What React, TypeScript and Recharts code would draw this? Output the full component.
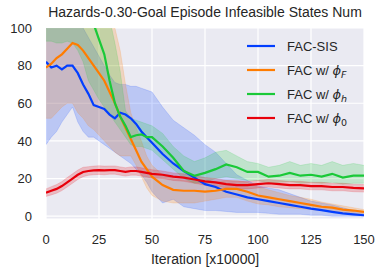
import React from 'react';
import { ComposedChart, Line, Area, XAxis, YAxis, CartesianGrid } from 'recharts';

const XS = [0,2.5,5,7.5,10,12.5,15,17.5,20,22.5,25,27.5,30,32.5,35,37.5,40,42.5,45,47.5,50,55,60,65,70,75,80,85,90,95,100,105,110,115,120,125,130,135,140,145,150];

const SIS_MEAN = [82,79,80,78,80,80,76,70,65,59,58,57,54,52,55,54,52,49,45,42,39,33,28,24,20.5,17,15.5,13,11.5,10,9,8,7,6,5,4,3.2,2.3,1.5,1,0.5];
const SIS_LO = [38,42,45,50,54,58,50,45,42,42,40,38,36,34,32,30,28,25,22,18,13,7,9,5,4,3,3,2.5,2,2,2,1.5,1,1,1,0.5,0.5,0,0,0,0];
const SIS_HI = [102,102,102,102,102,102,102,100,95,90,85,80,75,71,70,70,69,69,68,67,66,58,51,47,43,38,34,28,22,19,16,15,14,12,10,8,7,6,4.5,3,2];

const F_MEAN = [79,81,84,86,89,92,91,88,84,80,76,72,66,60,53,47,41,35,29,25,21,16.5,14,13.5,13.5,13,13.5,14.5,14.5,13,11,10,9,8,7,6,5,4.5,3.5,3,2.3];
const F_LO = [52,52,55,58,60,60,55,52,48,46,43,40,37,34,32,32,32,27,21,15,11,8,7,7,7,8,9,10,10,8,6.5,6,5,4.5,4,3.5,3,2.5,2,1.5,1];
const F_HI = [105,105,105,105,105,105,105,105,105,105,105,105,105,100,88,70,55,47,40,32,27,22,20,19,18.5,18,18,19,19,18,15.5,14,12.5,11,10,9,7.5,6.5,5.5,4.5,3.5];

const H_MEAN = [125,124,123,122,120,118,115,110,106,102,94,86,72,60,53,48,42,43,43.5,42,42,37,31,24,21.5,23,25,27.5,26,23.5,23.5,21,21.5,23,21.5,22,21,22.5,20.5,21.5,21.5];
const H_LO = [93,93,92,92,93,92,88,82,72,67,62,58,54,50,46,42,38,37,37,36,35,30,25,20,17.5,18,20,21,20,19,19,17.5,18,18.5,17.5,18,17.5,18,17,17.5,17.5];
const H_HI = [110,110,110,110,110,110,110,110,110,110,110,110,105,92,77,56,52,51,50,49,48,44,37,32,29,31,34,35,32,29,28,26,27,29,27,28,27,29,27,28,27];

const Z_MEAN = [12.5,13.5,14.5,16,18,20,22,23.5,24,24.3,24.5,24.3,24.5,24.5,24,23.5,24,24,23.5,23,22.5,22,21,20.5,19.5,18.5,18,17,16.5,16.5,17,17.5,17,16.5,16.5,16,16,15.5,15.5,15,14.8];
const Z_LO = [10.5,11.3,12.2,13.6,15.5,17.5,19.5,21,21.7,22,22.2,22,22.3,22.3,21.8,21.3,21.8,21.8,21.3,20.8,20.3,20,19,18.5,17.5,16.5,16,15,14.5,14.5,15,15.5,15,14.5,14.5,14,14,13.5,13.5,13,12.8];
const Z_HI = [14.5,15.7,16.8,18.4,20.5,22.5,24.5,26,26.3,26.6,26.8,26.6,26.7,26.7,26.2,25.7,26.2,26.2,25.7,25.2,24.7,24,23,22.5,21.5,20.5,20,19,18.5,18.5,19,19.5,19,18.5,18.5,18,18,17.5,17.5,17,16.8];

const X_TICKS = [0, 25, 50, 75, 100, 125, 150];
const Y_TICKS = [0, 20, 40, 60, 80, 100];

const TITLE = 'Hazards-0.30-Goal Episode Infeasible States Num';
const X_LABEL = 'Iteration [x10000]';

const BLUE = '#023eff';
const ORANGE = '#ff7c00';
const GREEN = '#1ac938';
const RED = '#e8000b';
const TEXT = '#262626';

const LEGEND = [
  { color: BLUE, base: 'FAC-SIS', sub: '', subItalic: false },
  { color: ORANGE, base: 'FAC w/ ', sub: 'F', subItalic: true },
  { color: GREEN, base: 'FAC w/ ', sub: 'h', subItalic: true },
  { color: RED, base: 'FAC w/ ', sub: '0', subItalic: false },
];

const data = XS.map((x, i) => ({
  x,
  sis: SIS_MEAN[i],
  sisBand: [SIS_LO[i], SIS_HI[i]],
  f: F_MEAN[i],
  fBand: [F_LO[i], F_HI[i]],
  h: H_MEAN[i],
  hBand: [H_LO[i], H_HI[i]],
  z: Z_MEAN[i],
  zBand: [Z_LO[i], Z_HI[i]],
}));

export default function App() {
  const font = '"Liberation Sans", Arial, sans-serif';
  const mathFont = '"DejaVu Sans", sans-serif';
  return (
    <div style={{ position: 'absolute', left: 0, top: 0, width: 385, height: 275, fontFamily: font, background: '#fff' }}>
      <ComposedChart width={385} height={275} data={data} margin={{ top: 28, right: 21, bottom: 0, left: 0 }}>
        <CartesianGrid stroke="#ffffff" strokeWidth={1.2} fill="#EAEAF2" fillOpacity={1} />
        <XAxis
          type="number"
          dataKey="x"
          domain={[0, 150]}
          ticks={X_TICKS}
          allowDataOverflow
          axisLine={false}
          tickLine={false}
          tickMargin={10}
          height={56}
          tick={{ fill: TEXT, fontSize: 13 }}
        />
        <YAxis
          type="number"
          domain={[-1.5, 100]}
          ticks={Y_TICKS}
          allowDataOverflow
          axisLine={false}
          tickLine={false}
          tickMargin={8}
          width={46}
          tick={{ fill: TEXT, fontSize: 13 }}
        />
        <Area dataKey="sisBand" type="linear" fill={BLUE} fillOpacity={0.2} stroke={BLUE} strokeOpacity={0.15} strokeWidth={1} isAnimationActive={false} dot={false} activeDot={false} />
        <Area dataKey="fBand" type="linear" fill={ORANGE} fillOpacity={0.2} stroke={ORANGE} strokeOpacity={0.15} strokeWidth={1} isAnimationActive={false} dot={false} activeDot={false} />
        <Area dataKey="hBand" type="linear" fill={GREEN} fillOpacity={0.2} stroke={GREEN} strokeOpacity={0.15} strokeWidth={1} isAnimationActive={false} dot={false} activeDot={false} />
        <Area dataKey="zBand" type="linear" fill={RED} fillOpacity={0.2} stroke={RED} strokeOpacity={0.15} strokeWidth={1} isAnimationActive={false} dot={false} activeDot={false} />
        <Line dataKey="sis" type="linear" stroke={BLUE} strokeWidth={2.2} dot={false} activeDot={false} isAnimationActive={false} />
        <Line dataKey="f" type="linear" stroke={ORANGE} strokeWidth={2.2} dot={false} activeDot={false} isAnimationActive={false} />
        <Line dataKey="h" type="linear" stroke={GREEN} strokeWidth={2.2} dot={false} activeDot={false} isAnimationActive={false} />
        <Line dataKey="z" type="linear" stroke={RED} strokeWidth={2.2} dot={false} activeDot={false} isAnimationActive={false} />
      </ComposedChart>
      <svg width={385} height={275} style={{ position: 'absolute', left: 0, top: 0, pointerEvents: 'none' }}>
        <text x={205} y={17} textAnchor="middle" fontSize={14} fill={TEXT} fontFamily={font}>{TITLE}</text>
        <text x={205} y={264} textAnchor="middle" fontSize={14} fill={TEXT} fontFamily={font}>{X_LABEL}</text>
        {LEGEND.map((item, i) => {
          const cy = 46 + i * 24;
          return (
            <g key={i}>
              <line x1={247} x2={275} y1={cy} y2={cy} stroke={item.color} strokeWidth={2.2} />
              <text x={287} y={cy + 5} fontSize={13} fill={TEXT} fontFamily={font}>
                {item.base}
                {item.sub ? <tspan fontStyle="italic" fontFamily={mathFont}>ϕ</tspan> : null}
                {item.sub ? (
                  <tspan fontSize={9.5} dy={3} fontFamily={mathFont} fontStyle={item.subItalic ? 'italic' : 'normal'}>{item.sub}</tspan>
                ) : null}
              </text>
            </g>
          );
        })}
      </svg>
    </div>
  );
}
